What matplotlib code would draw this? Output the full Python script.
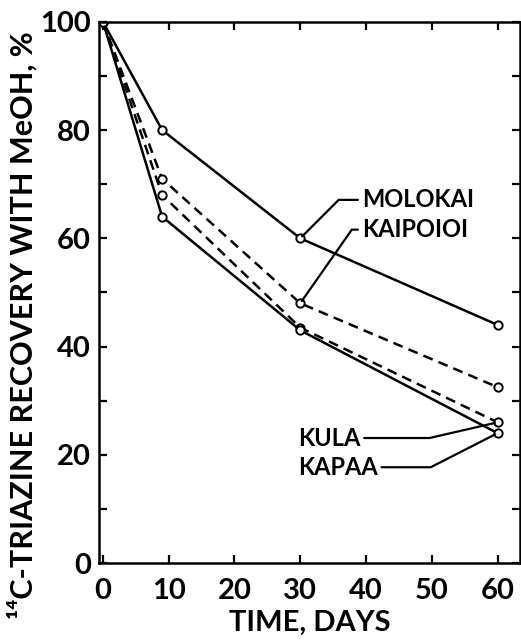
import matplotlib
matplotlib.use("Agg")
import matplotlib.pyplot as plt
from matplotlib.ticker import MultipleLocator

plt.rcParams['font.family'] = ['Lato', 'DejaVu Sans']
plt.rcParams['font.weight'] = 'bold'
plt.rcParams['axes.labelweight'] = 'bold'

# recovery of 14C-triazine by methanol extraction, by soil
days = [0, 9, 30, 60]
molokai = [100, 80, 60, 44]
kaipoioi = [100, 71, 48, 32.5]
kula = [100, 68, 43.5, 26]
kapaa = [100, 64, 43, 24]

soils = ["MOLOKAI", "KAIPOIOI", "KULA", "KAPAA"]
series = [molokai, kaipoioi, kula, kapaa]
dashed = [False, True, True, False]

fig = plt.figure(figsize=(5.21, 6.42), dpi=100)
ax = fig.add_axes([0.190, 0.123, 0.808, 0.843])

for vals, dash in zip(series, dashed):
    ax.plot(days, vals, color="black", lw=1.8,
            ls=(0, (4, 2.5)) if dash else "-",
            marker="o", ms=6, mfc="white", mec="black", mew=1.4)

# labels with bent leader lines to the day-30 / day-60 points
label_specs = [
    (0, 2, (39.4, 67.1), "left", 45),
    (1, 2, (39.4, 61.6), "left", 55),
    (2, 3, (29.6, 23.1), "right", 13),
    (3, 3, (29.6, 17.7), "right", 27),
]
for i, j, pos, side, ang in label_specs:
    ax.annotate(soils[i], xy=(days[j], series[i][j]), xytext=pos,
                ha="left", va="center", fontsize=17,
                arrowprops=dict(arrowstyle="-", lw=1.6, color="black",
                                shrinkA=1, shrinkB=2,
                                relpos=(0, 0.5) if side == "left" else (1, 0.5),
                                connectionstyle=f"angle,angleA=0,angleB={ang},rad=0"))

ax.set_xlim(-0.6, 63.4)
ax.set_ylim(0, 100)
ax.xaxis.set_major_locator(MultipleLocator(10))
ax.yaxis.set_major_locator(MultipleLocator(20))
ax.yaxis.set_minor_locator(MultipleLocator(10))
ax.tick_params(which="both", direction="in", top=True, right=True,
               width=1.6, labelsize=21)
ax.tick_params(which="major", length=6)
ax.tick_params(which="minor", length=6)
ax.tick_params(axis="x", pad=11)
ax.tick_params(axis="y", pad=6)
for s in ax.spines.values():
    s.set_linewidth(1.8)

ax.set_xlabel("TIME, DAYS", fontsize=21, labelpad=4)
ax.set_ylabel("¹⁴C-TRIAZINE RECOVERY WITH MeOH, %", fontsize=22)
ax.yaxis.set_label_coords(-0.145, 0.44)

fig.savefig("out.png", dpi=100)
